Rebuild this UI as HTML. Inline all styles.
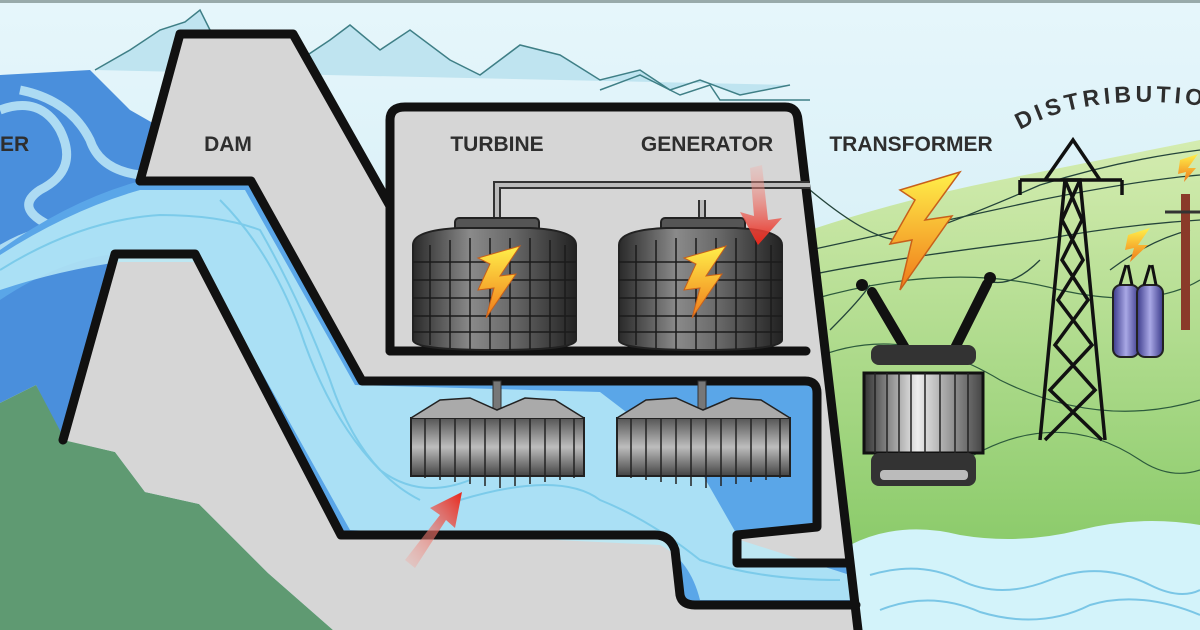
<!DOCTYPE html>
<html><head><meta charset="utf-8"><style>
html,body{margin:0;padding:0;background:#d6eef7}
svg{display:block}
text{font-family:"Liberation Sans",sans-serif;font-weight:bold;fill:#2e2e2e}
</style></head><body>
<svg width="1200" height="630" viewBox="0 0 1200 630" xmlns="http://www.w3.org/2000/svg">
<defs>
<linearGradient id="sky" x1="0" y1="0" x2="0" y2="1"><stop offset="0" stop-color="#e6f6fb"/><stop offset="1" stop-color="#c5e8f2"/></linearGradient>
<linearGradient id="hill" x1="0" y1="0" x2="0" y2="1"><stop offset="0" stop-color="#d4ecb0"/><stop offset="1" stop-color="#7cc45c"/></linearGradient>
<linearGradient id="cyl" x1="0" x2="1"><stop offset="0" stop-color="#2a2a2a"/><stop offset=".35" stop-color="#8a8a8a"/><stop offset=".6" stop-color="#6a6a6a"/><stop offset="1" stop-color="#222"/></linearGradient>
<linearGradient id="fin" x1="0" y1="0" x2="0" y2="1"><stop offset="0" stop-color="#555"/><stop offset=".5" stop-color="#bdbdbd"/><stop offset="1" stop-color="#444"/></linearGradient>
<linearGradient id="tr" x1="0" x2="1"><stop offset="0" stop-color="#333"/><stop offset=".45" stop-color="#eee"/><stop offset="1" stop-color="#444"/></linearGradient>
<linearGradient id="bolt" x1="0" y1="0" x2="0" y2="1"><stop offset="0" stop-color="#fff04a"/><stop offset="1" stop-color="#f07a1a"/></linearGradient>
<linearGradient id="arr" x1="0" y1="1" x2="1" y2="0"><stop offset="0" stop-color="#f4b0a8" stop-opacity=".3"/><stop offset="1" stop-color="#e8261a"/></linearGradient>
<linearGradient id="arr2" x1="0" y1="0" x2="0" y2="1"><stop offset="0" stop-color="#f4b0a8" stop-opacity=".3"/><stop offset="1" stop-color="#e8261a"/></linearGradient>
<linearGradient id="purp" x1="0" x2="1"><stop offset="0" stop-color="#3b3a8a"/><stop offset=".5" stop-color="#a9a8e6"/><stop offset="1" stop-color="#3b3a8a"/></linearGradient>
</defs>
<rect width="1200" height="630" fill="url(#sky)"/>
<rect width="1200" height="3" fill="#9aa"/>
<!-- mountains -->
<path d="M95,70 L130,50 L160,30 L185,22 L200,10 L210,30 L270,50 L300,60 L330,40 L350,25 L380,50 L410,30 L450,60 L480,75 L520,45 L560,55 L600,80 L640,70 L670,90 L700,80 L740,95 L790,85" fill="#bfe4f0" stroke="#3f7f86" stroke-width="1.5"/>
<path d="M600,90 L640,75 L680,95 L710,85 L720,100 L810,100" fill="none" stroke="#3f7f86" stroke-width="1.5"/>
<!-- right hills -->
<path d="M810,230 Q900,200 1000,180 Q1100,160 1200,140 L1200,630 L810,630 Z" fill="url(#hill)"/>
<path d="M810,300 Q950,260 1060,290 Q1150,310 1200,280" fill="none" stroke="#2c5a3c" stroke-width="1.2"/>
<path d="M810,360 Q900,320 1000,380 Q1100,430 1200,400" fill="none" stroke="#2c5a3c" stroke-width="1.2"/>
<path d="M950,470 Q1050,400 1140,460 Q1170,480 1200,470" fill="none" stroke="#2c5a3c" stroke-width="1.2"/>
<!-- power lines -->
<g fill="none" stroke="#24443a" stroke-width="1.3">
<path d="M810,190 Q870,240 900,240 Q960,220 1040,185 Q1120,160 1200,150"/>
<path d="M810,250 Q900,230 1040,200 Q1140,180 1200,175"/>
<path d="M810,275 Q880,260 1040,240 Q1120,225 1200,220"/>
<path d="M830,330 Q860,300 870,285"/>
<path d="M985,280 Q1010,290 1040,260"/>
<path d="M1110,270 Q1150,240 1190,230"/>
</g>
<!-- bottom right water -->
<path d="M850,545 Q900,520 960,535 Q1020,545 1080,530 Q1140,515 1200,525 L1200,630 L850,630 Z" fill="#d3f3fa"/>
<g fill="none" stroke="#7ac6e6" stroke-width="2">
<path d="M870,575 Q920,560 960,580 Q1000,600 1050,580 Q1100,560 1150,585 Q1180,600 1200,590"/>
<path d="M880,610 Q930,590 980,612 Q1040,630 1090,605 Q1140,590 1200,615"/>
</g>
<!-- left reservoir -->
<path d="M0,75 L90,70 L130,110 L165,130 L140,181 L115,254 L63,440 L36,385 L0,403 Z" fill="#4a8fdc"/>
<g fill="none" stroke="#bfe9f8" stroke-width="9" opacity=".85">
<path d="M0,110 Q40,95 60,130 Q80,170 40,190 Q10,210 60,230 Q110,250 150,210"/>
<path d="M0,250 Q50,220 100,230 Q130,235 150,200"/>
<path d="M20,90 Q70,100 90,140 Q100,170 140,175"/>
</g>
<!-- green hill -->
<path d="M0,403 L36,385 L65,440 L115,452 L145,492 L199,504 L268,573 L333,630 L0,630 Z" fill="#5f9a72"/>
<!-- dam gray -->
<path d="M140,181 L180,34 L293,34 L390,206 L390,107 L797,107 L858,630 L333,630 L268,573 L199,504 L145,492 L115,452 L63,440 L115,254 Z" fill="#d6d6d6"/>
<!-- channel water -->
<path d="M0,250 Q70,200 140,181 L251,181 L362,381 L817,381 L817,527 L737,535 L737,563 L850,563 L855,605 L690,605 Q678,600 675,560 Q672,535 660,535 L341,535 L195,254 L115,254 Q60,260 0,300 Z" fill="#5aa6e8"/>
<path d="M0,255 Q70,210 140,190 L245,190 L355,385 L600,392 Q650,430 700,470 L740,540 L850,575 L855,600 L700,600 Q690,560 660,545 L350,530 L200,262 L120,262 Q60,270 0,290 Z" fill="#b9eaf7" opacity=".85"/>
<g fill="none" stroke="#7ccbea" stroke-width="2">
<path d="M0,270 Q80,220 160,215 Q220,215 260,230 Q300,300 330,380 Q360,470 420,500"/>
<path d="M220,200 Q270,250 300,330 Q330,420 380,470 Q420,500 470,480"/>
<path d="M460,500 Q560,470 600,500 Q650,520 700,560 Q760,580 840,580"/>
</g>
<!-- structure outlines -->
<g fill="none" stroke="#111" stroke-width="9" stroke-linejoin="round" stroke-linecap="round">
<path d="M140,181 L180,34 L293,34 L390,206"/>
<path d="M390,351 L390,120 Q390,107 405,107 L785,107 Q797,107 798,120 L858,630"/>
<path d="M140,181 L251,181 L362,381 L805,381 Q817,381 817,393 L817,527 L737,535 L737,563 L850,563"/>
<path d="M63,440 L115,254 L195,254 L341,535 L655,535 Q670,535 675,550 L680,595 Q682,605 695,605 L856,605"/>
<path d="M390,351 L806,351"/>
</g>
<!-- pipes -->
<g fill="none" stroke="#333" stroke-width="8"><path d="M497,228 L497,185 L810,185"/><path d="M702,228 L702,200"/></g>
<g fill="none" stroke="#bbb" stroke-width="4"><path d="M497,228 L497,185 L810,185"/><path d="M702,228 L702,200"/></g>
<!-- generators -->
<g id="gen">
<rect x="455" y="218" width="84" height="14" rx="4" fill="#555" stroke="#222" stroke-width="2"/>
<path d="M413,245 Q413,230 460,228 L530,228 Q576,230 576,245 L576,340 Q576,350 495,350 Q413,350 413,340 Z" fill="url(#cyl)" stroke="#222" stroke-width="2"/>
<g stroke="#1b1b1b" stroke-width="1.5" fill="none">
<path d="M413,262 H576 M413,280 H576 M413,298 H576 M413,316 H576 M413,332 H576"/>
<path d="M430,245 V345 M450,240 V348 M470,238 V349 M490,238 V350 M510,238 V350 M530,238 V349 M550,240 V348 M565,245 V345"/>
</g>
<path d="M478,258 L520,246 L500,276 L516,274 L486,318 L494,288 L478,290 L490,264 Z" fill="url(#bolt)" stroke="#c8601a" stroke-width="1"/>
</g>
<use href="#gen" transform="translate(206,0)"/>
<!-- turbine shafts -->
<rect x="493" y="381" width="8" height="30" fill="#777" stroke="#333"/>
<rect x="698" y="381" width="8" height="30" fill="#777" stroke="#333"/>
<!-- turbines -->
<g id="tur">
<rect x="411" y="418" width="173" height="58" fill="url(#fin)" stroke="#222" stroke-width="2"/>
<g stroke="#222" stroke-width="1.5"><path d="M425,418V478 M440,418V480 M455,418V482 M470,418V484 M485,418V486 M500,418V488 M515,418V486 M530,418V484 M545,418V482 M560,418V480 M574,418V478"/></g>
<path d="M411,418 L440,400 L470,398 L497,410 L525,398 L555,400 L584,418" fill="#aaa" stroke="#222" stroke-width="1.5"/>
</g>
<use href="#tur" transform="translate(206,0)"/>
<!-- red arrows -->
<path d="M405,560 L440,515 L430,508 L462,492 L455,528 L446,520 L415,568 Z" fill="url(#arr)"/>
<path d="M762,165 L768,220 L782,218 L758,245 L740,212 L754,216 L750,168 Z" fill="url(#arr2)"/>
<!-- transformer -->
<path d="M872,292 L905,348" stroke="#111" stroke-width="10" stroke-linecap="round"/>
<path d="M987,284 L955,348" stroke="#111" stroke-width="10" stroke-linecap="round"/>
<circle cx="862" cy="285" r="6" fill="#111"/><circle cx="990" cy="278" r="6" fill="#111"/>
<rect x="871" y="345" width="105" height="20" rx="8" fill="#333"/>
<rect x="864" y="373" width="119" height="80" fill="url(#tr)" stroke="#111" stroke-width="3"/>
<g stroke="#222" stroke-width="1.5"><path d="M875,373V453 M887,373V453 M899,373V453 M911,373V453 M925,373V453 M940,373V453 M955,373V453 M968,373V453"/></g>
<rect x="871" y="453" width="105" height="33" rx="8" fill="#333"/>
<rect x="880" y="470" width="88" height="10" rx="4" fill="#bbb"/>
<path d="M900,190 L960,172 L925,220 L952,216 L900,290 L912,240 L890,244 L915,200 Z" fill="url(#bolt)" stroke="#c8601a" stroke-width="1.5"/>
<!-- tower -->
<g fill="none" stroke="#111" stroke-width="3.5">
<path d="M1040,440 L1065,180 L1080,180 L1105,440"/>
<path d="M1020,180 H1122 M1045,180 L1073,140 L1100,180 M1020,180 V195 M1122,180 V195"/>
<path d="M1065,180 L1082,220 L1062,260 L1088,300 L1055,345 L1095,390 L1045,440 M1080,180 L1062,220 L1083,260 L1058,300 L1092,345 L1050,390 L1102,440"/>
</g>
<!-- tanks -->
<rect x="1113" y="285" width="26" height="72" rx="8" fill="url(#purp)" stroke="#222" stroke-width="2"/>
<rect x="1137" y="285" width="26" height="72" rx="8" fill="url(#purp)" stroke="#222" stroke-width="2"/>
<path d="M1120,285 L1126,265 M1132,285 L1128,265 M1144,285 L1150,265 M1156,285 L1152,265" stroke="#111" stroke-width="3"/>
<path d="M1128,235 L1150,228 L1138,245 L1148,245 L1130,262 L1134,248 L1125,250 Z" fill="url(#bolt)"/>
<!-- pole -->
<rect x="1181" y="194" width="9" height="136" fill="#8a3a2a"/>
<path d="M1165,212 H1200" stroke="#333" stroke-width="3"/>
<path d="M1180,160 L1198,154 L1188,168 L1196,168 L1184,182 L1186,172 L1178,174 Z" fill="url(#bolt)"/>
<!-- labels -->
<text x="0" y="151" font-size="21">ER</text>
<text x="228" y="151" font-size="21" text-anchor="middle">DAM</text>
<text x="497" y="151" font-size="21" text-anchor="middle">TURBINE</text>
<text x="707" y="151" font-size="21" text-anchor="middle">GENERATOR</text>
<text x="911" y="151" font-size="21" text-anchor="middle">TRANSFORMER</text>
<path id="arc" d="M1020,130 Q1100,85 1240,112" fill="none"/>
<text font-size="23" letter-spacing="4"><textPath href="#arc">DISTRIBUTION</textPath></text>
</svg>
</body></html>
